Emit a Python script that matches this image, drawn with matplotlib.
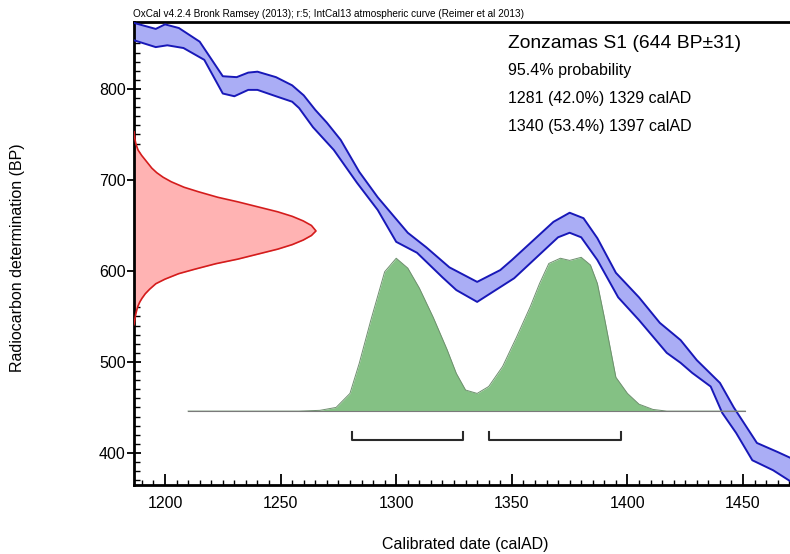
import numpy as np
import matplotlib
matplotlib.use('Agg')
import matplotlib.pyplot as plt
from matplotlib.ticker import MultipleLocator

plt.rcParams['font.family'] = ['Liberation Sans', 'DejaVu Sans']

# calibration curve band (IntCal13), upper and lower edge
cal_hi_years = [1186, 1196, 1200, 1206, 1215, 1225, 1231, 1236, 1240, 1248, 1255, 1260,
                1265, 1270, 1276, 1284, 1292, 1305, 1313, 1323, 1335, 1345, 1350, 1368,
                1375, 1381, 1387, 1395, 1405, 1414, 1423, 1430, 1440, 1446, 1456, 1465, 1471]
cal_hi_bp = [873, 866, 871, 867, 852, 814, 813, 818, 819, 813, 804, 793,
             777, 763, 744, 709, 681, 642, 626, 604, 588, 601, 612, 654,
             664, 658, 636, 598, 571, 543, 524, 502, 477, 450, 411, 401, 394]
cal_lo_years = [1186, 1196, 1201, 1208, 1217, 1225, 1230, 1236, 1240, 1248, 1255, 1258,
                1264, 1273, 1283, 1292, 1300, 1309, 1320, 1326, 1335, 1351, 1370, 1375,
                1380, 1387, 1396, 1405, 1417, 1423, 1428, 1436, 1441, 1447, 1454, 1463, 1471]
cal_lo_bp = [854, 846, 848, 845, 832, 795, 792, 799, 799, 792, 786, 779,
             758, 733, 697, 667, 632, 620, 593, 579, 566, 592, 637, 642,
             637, 612, 571, 546, 510, 499, 488, 473, 444, 422, 392, 381, 368]

# radiocarbon determination (644 +/- 31 BP), relative density
c14_bp = [541, 546, 552, 557, 561, 566, 570, 575, 580, 586, 591, 597, 602, 608, 613, 619,
          624, 629, 634, 639, 644, 650, 655, 660, 665, 670, 676, 681, 687, 692, 698, 703,
          708, 713, 718, 722, 727, 733, 740, 746, 753]
c14_dens = [0, 0.004, 0.009, 0.015, 0.021, 0.032, 0.044, 0.062, 0.086, 0.12, 0.17, 0.245,
            0.335, 0.45, 0.57, 0.69, 0.79, 0.87, 0.93, 0.975, 1.0, 0.975, 0.93, 0.87, 0.79,
            0.69, 0.57, 0.46, 0.355, 0.275, 0.205, 0.16, 0.125, 0.098, 0.078, 0.062, 0.042,
            0.022, 0.01, 0.004, 0]

# calibrated date distribution, relative probability
post_years = [1210, 1258, 1267, 1274, 1280, 1284, 1289, 1295, 1300, 1305, 1310, 1316, 1322,
              1326, 1330, 1335, 1340, 1346, 1352, 1358, 1362, 1366, 1371, 1375, 1380, 1384,
              1387, 1390, 1395, 1400, 1405, 1411, 1417, 1451]
post_prob = [0, 0, 0.005, 0.024, 0.115, 0.31, 0.59, 0.906, 0.994, 0.93, 0.80, 0.61, 0.40,
             0.245, 0.137, 0.115, 0.16, 0.29, 0.48, 0.68, 0.83, 0.96, 0.994, 0.98, 1.0, 0.95,
             0.83, 0.61, 0.22, 0.115, 0.045, 0.011, 0, 0]

range_starts = [1281, 1340]
range_ends = [1329, 1397]
range_pcts = ['42.0%', '53.4%']

sample_name = 'Zonzamas S1'
sample_bp = 644
sample_err = 31

W, H = 790, 554
fig = plt.figure(figsize=(W / 100, H / 100), dpi=100)
ax = fig.add_axes([134 / W, 1 - 485 / H, 1 - 134 / W, (485 - 22) / H])

xmin, xmax = 1186.6, 1470.3
ymin, ymax = 364.8, 873.6

# calibration band
band_x = np.concatenate([cal_hi_years, cal_lo_years[::-1]])
band_y = np.concatenate([cal_hi_bp, cal_lo_bp[::-1]])
ax.fill(band_x, band_y, color='#aaadf5', lw=0, zorder=2)
ax.plot(cal_hi_years, cal_hi_bp, color='#1818b8', lw=1.4, zorder=3)
ax.plot(cal_lo_years, cal_lo_bp, color='#1818b8', lw=1.4, zorder=3)

# radiocarbon date on the y axis
red_w = 78.7
red_x = xmin + np.array(c14_dens) * red_w
ax.fill_betweenx(c14_bp, xmin, red_x, color='#ffb3b3', lw=0, zorder=2)
ax.plot(red_x, c14_bp, color='#d41c1c', lw=1.2, zorder=3)

# calibrated distribution
base = 446
green_h = 169
green_y = base + np.array(post_prob) * green_h
ax.fill_between(post_years, base, green_y, color='#84c184', lw=0, zorder=4)
ax.plot(post_years, green_y, color='#6e8f6e', lw=0.7, zorder=5)
ax.plot([post_years[0], post_years[-1]], [base, base], color='#7a7a7a', lw=0.8, zorder=5)

# 95.4% ranges
for a, b in zip(range_starts, range_ends):
    ax.plot([a, a, b, b], [423, 414, 414, 423], color='#2a2a2a', lw=1.5, zorder=5)

ax.set_xlim(xmin, xmax)
ax.set_ylim(ymin, ymax)

ax.xaxis.set_major_locator(MultipleLocator(50))
ax.xaxis.set_minor_locator(MultipleLocator(5))
ax.yaxis.set_major_locator(MultipleLocator(100))
ax.yaxis.set_minor_locator(MultipleLocator(10))
ax.tick_params(axis='x', which='major', direction='in', length=8, width=1.3, labelsize=11.5, pad=8)
ax.tick_params(axis='x', which='minor', direction='in', length=3.5, width=1)
ax.tick_params(axis='y', which='major', direction='inout', length=10, width=1.3, labelsize=11.5, pad=1)
ax.tick_params(axis='y', which='minor', direction='in', length=4.5, width=1)

for s in ['left', 'bottom', 'top']:
    ax.spines[s].set_linewidth(2)
ax.spines['right'].set_visible(False)

fig.text(18 / W, 1 - 258 / H, 'Radiocarbon determination (BP)', rotation=90,
         ha='center', va='center', fontsize=11.5)
fig.text(465 / W, 1 - 544 / H, 'Calibrated date (calAD)', ha='center', va='center', fontsize=11.5)

fig.text(133 / W, 1 - 14 / H,
         'OxCal v4.2.4 Bronk Ramsey (2013); r:5; IntCal13 atmospheric curve (Reimer et al 2013)',
         ha='left', va='center', fontsize=7.2, family=['Liberation Sans Narrow', 'Liberation Sans'])

fig.text(508 / W, 1 - 44 / H, '%s (%d BP\u00b1%d)' % (sample_name, sample_bp, sample_err),
         ha='left', va='center', fontsize=13.9)
fig.text(508 / W, 1 - 70 / H, '95.4% probability', ha='left', va='center', fontsize=11.5)
for i, (a, b, p) in enumerate(zip(range_starts, range_ends, range_pcts)):
    fig.text(508 / W, 1 - (98 + 28 * i) / H, '%d (%s) %d calAD' % (a, p, b),
             ha='left', va='center', fontsize=11.5)

fig.savefig('out.png', dpi=100)
